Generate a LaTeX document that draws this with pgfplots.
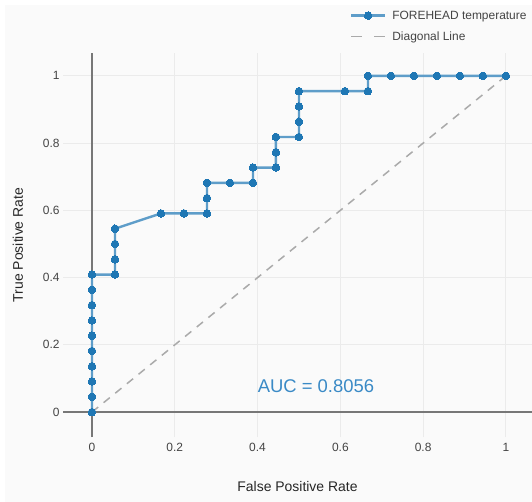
\documentclass[border=0pt]{standalone}
\usepackage{fontspec}
\setmainfont{Liberation Sans}
\usepackage{pgfplots}
\pgfplotsset{compat=1.18}

\definecolor{pblue}{HTML}{1F77B4}
\definecolor{bgc}{HTML}{FAFAFA}
\definecolor{gridc}{HTML}{EBEBEB}
\definecolor{zeroc}{HTML}{777777}
\definecolor{txt}{HTML}{444444}
\definecolor{diagc}{HTML}{AAAAAA}
\definecolor{aucc}{HTML}{3A8AC6}

\begin{document}
\begin{tikzpicture}
  % page background (plot area lower left sits at the origin)
  \fill[white] (-63bp,-65bp) rectangle (469bp,437bp);
  \fill[bgc] (-58bp,-65bp) rectangle (469bp,432bp);
  \begin{axis}[
      scale only axis,
      width=469bp,
      height=384bp,
      xmin=-0.070, xmax=1.063,
      ymin=-0.074, ymax=1.068,
      axis line style={draw=none},
      major tick length=0pt,
      xtick={0.2,0.4,0.6,0.8,1},
      ytick={0.2,0.4,0.6,0.8,1},
      extra x ticks={0},
      extra y ticks={0},
      extra tick style={grid style={color=zeroc, line width=1.6bp}},
      grid=major,
      grid style={color=gridc, line width=1bp},
      /pgf/number format/assume math mode=true,
      ticklabel style={font=\fontsize{12}{14}\selectfont, text=txt},
      xticklabel style={yshift=-2.5bp},
      xlabel={False Positive Rate},
      ylabel={True Positive Rate},
      label style={font=\fontsize{14}{16}\selectfont, text=black!85},
      xlabel style={at={(axis description cs:0.5,-0.130)}, anchor=center},
      ylabel style={at={(axis description cs:-0.096,0.5)}, anchor=center},
      legend style={at={(0.605,1.121)}, anchor=north west, draw=none, fill=none,
        font=\fontsize{12}{14}\selectfont, text=txt, row sep=7bp, column sep=4bp},
      legend cell align=left,
      legend image code/.code={%
        \draw[mark repeat=2, mark phase=2] plot coordinates {(0bp,0bp) (17bp,0bp) (34bp,0bp)};},
    ]
    \addplot[color=pblue!72!white, line width=2.4bp,
      mark=*, mark size=3.8bp, mark options={fill=pblue, draw=pblue, line width=0pt}]
      coordinates {
        (0,0) (0,0.0455) (0,0.0909) (0,0.1364) (0,0.1818) (0,0.2273)
        (0,0.2727) (0,0.3182) (0,0.3636) (0,0.4091)
        (0.0556,0.4091) (0.0556,0.4545) (0.0556,0.5) (0.0556,0.5455)
        (0.1667,0.5909) (0.2222,0.5909) (0.2778,0.5909) (0.2778,0.6364) (0.2778,0.6818)
        (0.3333,0.6818) (0.3889,0.6818) (0.3889,0.7273)
        (0.4444,0.7273) (0.4444,0.7727) (0.4444,0.8182)
        (0.5,0.8182) (0.5,0.8636) (0.5,0.9091) (0.5,0.9545)
        (0.6111,0.9545) (0.6667,0.9545) (0.6667,1)
        (0.7222,1) (0.7778,1) (0.8333,1) (0.8889,1) (0.9444,1) (1,1)
      };
    \addlegendentry{FOREHEAD temperature}
    \addplot[color=diagc, line width=1.5bp, dash pattern=on 8bp off 7bp,
      legend image post style={dash pattern=on 11bp off 12bp}]
      coordinates {(0,0) (1,1)};
    \addlegendentry{Diagonal Line}
    \node[font=\fontsize{18.5}{20}\selectfont, text=aucc] at (axis cs:0.541,0.077) {AUC = 0.8056};
  \end{axis}
  \pgfresetboundingbox
  \useasboundingbox (-63bp,-65bp) rectangle (469bp,437bp);
\end{tikzpicture}
\end{document}
